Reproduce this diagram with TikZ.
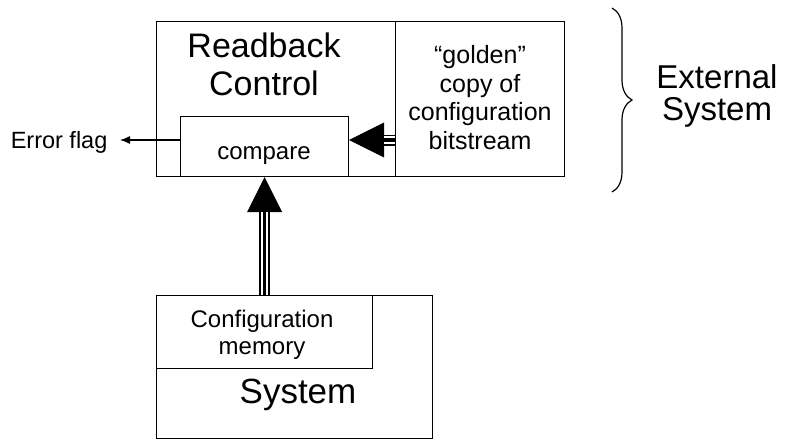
\documentclass[tikz,border=0pt]{standalone}
\usepackage{fontspec}
\setmainfont{Liberation Sans}
\usetikzlibrary{arrows.meta,decorations.pathreplacing}
\newcommand{\fs}[2]{\fontsize{#1}{#2}\selectfont}

\begin{document}
\begin{tikzpicture}[x=1pt,y=-1pt,line width=1.2pt,
  box/.style={draw,rectangle,inner sep=0,anchor=north west},
  lbl/.style={inner sep=0,align=center},
  fat/.style={line width=11pt,-{Triangle[length=35pt,width=35pt,line width=0.5pt]}},
  gap/.style={white,line width=7.5pt,shorten >=35pt},
  core/.style={line width=3.5pt,shorten >=35pt}]
\useasboundingbox (0,0) rectangle (786,440);

% readback block with its golden copy and comparator
\node[box,minimum width=408,minimum height=155] (rb) at (156,21) {};
\node[box,minimum width=169,minimum height=155] (gold) at (395,21) {};
\node[box,minimum width=168,minimum height=60] (cmp) at (180,116) {};

% system under test
\node[box,minimum width=276,minimum height=143] (sys) at (156,295) {};
\node[box,minimum width=216,minimum height=73] (mem) at (156,295) {};

% labels
\node[lbl,anchor=north,font=\fs{34}{38}] (rbtxt) at (264,32) {Readback\\Control};
\node[lbl,anchor=north,font=\fs{25}{28.5}] (goldtxt) at (480,45) {“golden”\\copy of\\configuration\\bitstream};
\node[lbl,anchor=base,font=\fs{24}{28}] (cmptxt) at (264,159) {compare};
\node[lbl,anchor=base east,font=\fs{23.5}{28}] (err) at (108,148) {Error flag};
\node[lbl,anchor=north,font=\fs{24}{27.5}] (memtxt) at (262,309) {Configuration\\memory};
\node[lbl,anchor=base,font=\fs{35}{40}] (systxt) at (298,403) {System};
\node[lbl,anchor=north,font=\fs{33}{32.4}] (ext) at (717,64) {External\\System};

% error flag out of the comparator
\coordinate (lvl) at (0,140);
\draw[-{Latex[length=10pt,width=8pt]},shorten >=12pt] (cmp.west |- lvl) -- (err.east |- lvl);

% golden copy into the comparator
\draw[fat] (gold.west |- lvl) -- (cmp.east |- lvl);
\draw[gap] (gold.west |- lvl) -- (cmp.east |- lvl);
\draw[core] (gold.west |- lvl) -- (cmp.east |- lvl);

% readback of configuration memory
\draw[fat] (cmp.south |- sys.north) -- (cmp.south);
\draw[gap] (cmp.south |- sys.north) -- (cmp.south);
\draw[core] (cmp.south |- sys.north) -- (cmp.south);

% external system brace
\coordinate (btop) at (612,8);
\coordinate (bbot) at (612,192);
\draw[decorate,decoration={brace,amplitude=20pt}] (btop) -- (bbot);

\end{tikzpicture}
\end{document}
